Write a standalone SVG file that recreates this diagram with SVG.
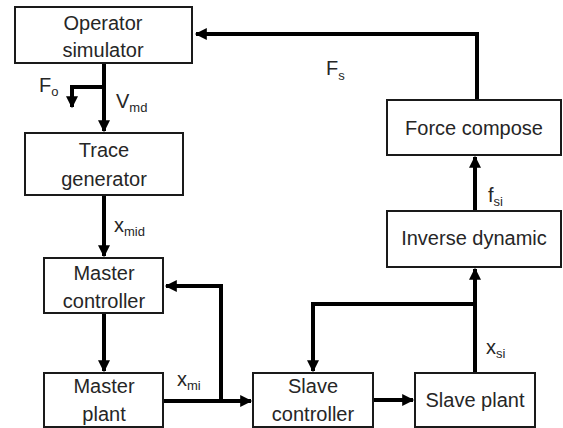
<svg xmlns="http://www.w3.org/2000/svg" width="563" height="428" viewBox="0 0 563 428">
<defs>
<style>
.box{fill:#fff;stroke:#1a1a1a;stroke-width:2}
.t{font-family:"Liberation Sans",Arial,sans-serif;font-size:20px;fill:#262626;text-anchor:middle}
.l{font-family:"Liberation Sans",Arial,sans-serif;font-size:20px;fill:#262626}
.s{font-size:13px}
.c{fill:none;stroke:#000;stroke-width:4;stroke-linejoin:miter}
</style>
<marker id="ah" viewBox="0 0 10 10" refX="9" refY="5" markerWidth="14" markerHeight="12" markerUnits="userSpaceOnUse" orient="auto">
<path d="M0,0 L10,5 L0,10 z" fill="#000"/>
</marker>
</defs>
<rect width="563" height="428" fill="#fff"/>
<g id="connectors">
<path class="c" d="M477,101 V34 H196" marker-end="url(#ah)"/>
<path class="c" d="M104,64 V131" marker-end="url(#ah)"/>
<path class="c" d="M104,87 H72 V107" marker-end="url(#ah)"/>
<path class="c" d="M104,196 V256" marker-end="url(#ah)"/>
<path class="c" d="M104,314 V371" marker-end="url(#ah)"/>
<path class="c" d="M164,401 H251" marker-end="url(#ah)"/>
<path class="c" d="M221,401 V286 H166" marker-end="url(#ah)"/>
<path class="c" d="M374,400 H413" marker-end="url(#ah)"/>
<path class="c" d="M475,372 V269" marker-end="url(#ah)"/>
<path class="c" d="M475,304 H313 V371" marker-end="url(#ah)"/>
<path class="c" d="M475,211 V157" marker-end="url(#ah)"/>
</g>
<g id="operator-simulator">
<rect class="box" x="15" y="7" width="177" height="56"/>
<text class="t" x="103" y="30">Operator</text>
<text class="t" x="103" y="57">simulator</text>
</g>
<g id="trace-generator">
<rect class="box" x="25" y="133" width="158" height="62"/>
<text class="t" x="104" y="157">Trace</text>
<text class="t" x="104" y="186">generator</text>
</g>
<g id="master-controller">
<rect class="box" x="44" y="258" width="119" height="55"/>
<text class="t" x="104" y="280">Master</text>
<text class="t" x="104" y="308">controller</text>
</g>
<g id="master-plant">
<rect class="box" x="44" y="373" width="119" height="54"/>
<text class="t" x="104" y="393">Master</text>
<text class="t" x="104" y="421">plant</text>
</g>
<g id="slave-controller">
<rect class="box" x="253" y="373" width="120" height="54"/>
<text class="t" x="313" y="393">Slave</text>
<text class="t" x="313" y="421">controller</text>
</g>
<g id="slave-plant">
<rect class="box" x="415" y="373" width="120" height="54"/>
<text class="t" x="475" y="407">Slave plant</text>
</g>
<g id="inverse-dynamic">
<rect class="box" x="387" y="211" width="174" height="56"/>
<text class="t" x="474" y="245">Inverse dynamic</text>
</g>
<g id="force-compose">
<rect class="box" x="387" y="100" width="174" height="55"/>
<text class="t" x="474" y="135">Force compose</text>
</g>
<g id="labels">
<text class="l" x="39" y="92">F<tspan class="s" dy="4">o</tspan></text>
<text class="l" x="116" y="108">V<tspan class="s" dy="4">md</tspan></text>
<text class="l" x="326" y="75">F<tspan class="s" dy="5">s</tspan></text>
<text class="l" x="114" y="232">x<tspan class="s" dy="4">mid</tspan></text>
<text class="l" x="177" y="386">x<tspan class="s" dy="4">mi</tspan></text>
<text class="l" x="486" y="354">x<tspan class="s" dy="4">si</tspan></text>
<text class="l" x="488" y="202">f<tspan class="s" dy="4">si</tspan></text>
</g>
</svg>
